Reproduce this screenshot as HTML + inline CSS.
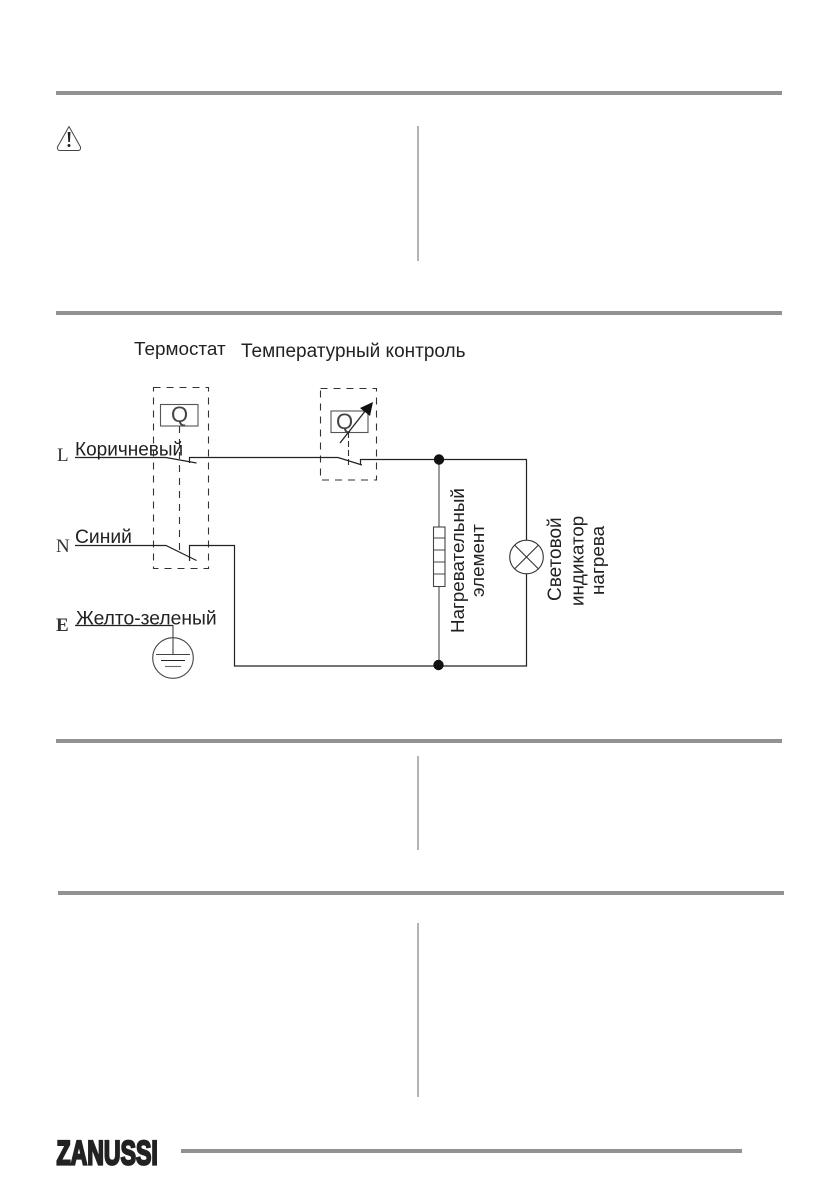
<!DOCTYPE html>
<html>
<head>
<meta charset="utf-8">
<style>
html,body{margin:0;padding:0;background:#fff;width:839px;height:1191px;overflow:hidden}
svg{display:block}
text{font-family:"Liberation Sans","Noto Sans CJK SC",sans-serif;fill:#222}
.s{font-family:"Liberation Serif","Noto Serif CJK SC",serif;fill:#333}
</style>
</head>
<body>
<svg width="839" height="1191" viewBox="0 0 839 1191" xmlns="http://www.w3.org/2000/svg">
<rect width="839" height="1191" fill="#fff"/>
<!-- section rules -->
<g fill="#929292">
<rect x="56" y="91" width="726" height="4"/>
<rect x="56" y="311" width="726" height="4"/>
<rect x="56" y="739" width="726" height="4"/>
<rect x="58" y="891" width="726" height="4"/>
<rect x="181" y="1149" width="561" height="4"/>
</g>
<!-- column rules -->
<g fill="#b4b4b4">
<rect x="417" y="126" width="2" height="135"/>
<rect x="417" y="756" width="2" height="94"/>
<rect x="417" y="923" width="2" height="174"/>
</g>
<!-- warning -->
<g fill="none" stroke="#444" stroke-width="1">
<path d="M69 126.5 L80.5 147 Q81 150.5 78 150.5 L60 150.5 Q57 150.5 57.5 147 Z" stroke-linejoin="round"/>
</g>
<path d="M67.7 132 h2.8 l-0.6 10 h-1.6 z" fill="#222"/>
<circle cx="69" cy="145.5" r="1.5" fill="#222"/>
<!-- top labels -->
<text x="134" y="355" font-size="18.9">Термостат</text>
<text x="241" y="357" font-size="19">Температурный контроль</text>
<!-- dashed boxes -->
<g fill="none" stroke="#333" stroke-width="1.1" stroke-dasharray="7 6">
<rect x="153.5" y="387.5" width="55" height="181"/>
<rect x="320.5" y="388.5" width="56" height="91.5"/>
<path d="M179.5 426 V552"/>
<path d="M348.5 432 V466" stroke-dasharray="6 3"/>
</g>
<!-- Q boxes -->
<g fill="none" stroke="#555" stroke-width="1.1">
<rect x="160.5" y="404.5" width="37.5" height="21.5"/>
<rect x="331" y="411" width="37" height="21.5"/>
</g>
<text x="179.5" y="422" font-size="22" text-anchor="middle" style="fill:#444">Q</text>
<text x="344.5" y="429" font-size="22" text-anchor="middle" style="fill:#444">Q</text>
<!-- arrow -->
<path d="M340 443 L366 410" stroke="#222" stroke-width="1.3" fill="none"/>
<path d="M373 402 L370 416 L360 408 Z" fill="#111"/>
<!-- wires -->
<g fill="none" stroke="#222" stroke-width="1.2">
<path d="M75 457.5 H166 L196.5 463"/>
<path d="M189.5 463 V457.5 H338 L362 465"/>
<path d="M360.5 465 V459.5 H526.5 V540"/>
<path d="M75 545.5 H166 L196.5 560.5"/>
<path d="M189.5 561 V545.5 H234.5 V666 H526.5 V574"/>
<path d="M75 625.5 H173"/>
</g>
<path d="M439 460 V527 M439 587 V665" stroke="#666" stroke-width="1.3" fill="none"/>
<circle cx="439" cy="459.5" r="5.2" fill="#111"/>
<circle cx="438.5" cy="665" r="5.2" fill="#111"/>
<!-- resistor -->
<g fill="none" stroke="#444" stroke-width="1.1">
<rect x="433.5" y="527" width="11.5" height="59.5"/>
<path d="M433.5 538 H445 M433.5 550 H445 M433.5 562 H445 M433.5 574 H445"/>
</g>
<!-- lamp -->
<g fill="none" stroke="#333" stroke-width="1.1">
<circle cx="526.5" cy="557" r="16.8"/>
<path d="M514.6 545.1 L538.4 568.9 M514.6 568.9 L538.4 545.1"/>
</g>
<!-- ground -->
<g fill="none" stroke="#444" stroke-width="1.1">
<path d="M173 625 V654"/>
<circle cx="173" cy="658" r="20.3"/>
<path d="M156 654.5 H190"/>
<path d="M161 660.5 H185" stroke="#222"/>
<path d="M165 666.5 H181" stroke="#666"/>
</g>
<!-- L N E -->
<text class="s" x="57" y="461" font-size="19">L</text>
<text class="s" x="56" y="552" font-size="19">N</text>
<text class="s" x="56" y="631" font-size="19" font-weight="bold">E</text>
<!-- wire labels -->
<text x="75" y="455.5" font-size="19">Коричневый</text>
<text x="75" y="543" font-size="19.3">Синий</text>
<text x="76" y="624.5" font-size="19.3">Желто-зеленый</text>
<!-- rotated labels -->
<text transform="translate(464,633) rotate(-90)" font-size="18.8">Нагревательный</text>
<text transform="translate(484,597) rotate(-90)" font-size="18.8">элемент</text>
<text transform="translate(561,601) rotate(-90)" font-size="19">Световой</text>
<text transform="translate(583.5,606) rotate(-90)" font-size="18.8">индикатор</text>
<text transform="translate(604,595) rotate(-90)" font-size="18.9">нагрева</text>
<!-- logo -->
<text transform="translate(56.5,1164.5) scale(0.83,1.32)" font-size="26" font-weight="bold" stroke="#222" stroke-width="1.7" textLength="122" lengthAdjust="spacingAndGlyphs" style="fill:#222">ZANUSSI</text>
</svg>
</body>
</html>
